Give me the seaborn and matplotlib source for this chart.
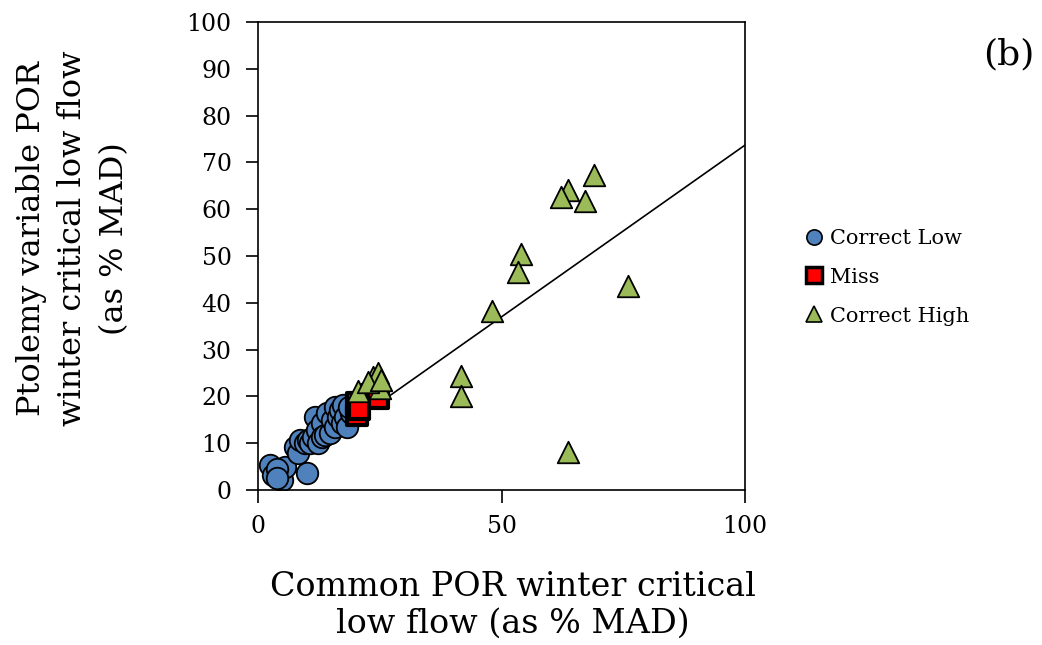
import numpy as np
import pandas as pd
import matplotlib
matplotlib.use("Agg")
import matplotlib.pyplot as plt
import seaborn as sns
from matplotlib.lines import Line2D

# ---------------- data ----------------
low_x = [2.5, 3.1, 4.9, 5.5, 10.0, 7.6, 8.2, 8.6, 9.7, 10.3, 10.7, 11.3, 11.7, 12.1,
         12.3, 13.1, 13.1, 13.8, 14.2, 14.8, 15.2, 15.8, 15.8, 16.4, 16.8, 17.2, 17.5,
         17.9, 18.3, 19.0, 18.6, 4.0, 3.8]
low_y = [5.3, 3.2, 2.1, 4.9, 3.6, 9.2, 7.9, 10.7, 10.0, 10.7, 10.0, 11.3, 15.6, 12.8,
         10.0, 14.3, 11.3, 11.8, 16.5, 12.2, 15.0, 13.5, 17.7, 15.6, 17.1, 14.3, 18.2,
         15.6, 13.5, 16.5, 17.8, 4.5, 2.6]

miss_x = [20.3, 20.3, 23.4, 24.6, 20.8]
miss_y = [18.6, 16.0, 20.3, 19.7, 17.3]

high_x = [69.0, 63.6, 62.2, 67.1, 54.0, 53.4, 76.0, 48.0, 41.7, 41.7, 63.7,
          23.6, 24.6, 25.1, 20.5, 22.6, 25.3]
high_y = [67.3, 64.1, 62.6, 61.8, 50.4, 46.6, 43.6, 38.2, 24.4, 20.1, 8.1,
          24.1, 25.0, 21.8, 21.2, 23.1, 23.5]

group_names = ["Correct Low", "Miss", "Correct High"]
trend_slope = 0.734
trend_intercept = 0.3
trend_x_range = [3.0, 100.0]

x_ticks = [0, 50, 100]
y_ticks = [0, 10, 20, 30, 40, 50, 60, 70, 80, 90, 100]

# ---------------- style ----------------
sns.set_style("white")
plt.rcParams["font.family"] = ["DejaVu Serif"]
plt.rcParams["text.color"] = "black"
plt.rcParams["xtick.color"] = "black"
plt.rcParams["ytick.color"] = "black"

df = pd.concat([
    pd.DataFrame({"x": low_x, "y": low_y, "g": group_names[0]}),
    pd.DataFrame({"x": miss_x, "y": miss_y, "g": group_names[1]}),
    pd.DataFrame({"x": high_x, "y": high_y, "g": group_names[2]}),
], ignore_index=True)

fig = plt.figure(figsize=(10.42, 6.45), dpi=100)
ax = fig.add_axes([0.2476, 0.2403, 0.4674, 0.7256])

# trendline
tx = np.linspace(trend_x_range[0], trend_x_range[1], 50)
ax.plot(tx, trend_slope * tx + trend_intercept, color="black", lw=1.2, zorder=1)

styles = {
    "Correct Low": dict(marker="o", color="#4F81BD", s=240, linewidth=1.3),
    "Miss": dict(marker="s", color="#FF0000", s=210, linewidth=3.0),
    "Correct High": dict(marker="^", color="#9BBB59", s=240, linewidth=1.3),
}
order_z = {"Correct Low": 2, "Miss": 3, "Correct High": 4}
for g in group_names:
    st = styles[g]
    sns.scatterplot(data=df[df.g == g], x="x", y="y", ax=ax, marker=st["marker"],
                    color=st["color"], s=st["s"], edgecolor="black",
                    linewidth=st["linewidth"], zorder=order_z[g], label=g, legend=False)

ax.set_xlim(0, 100)
ax.set_ylim(0, 100)
ax.set_xticks(x_ticks)
ax.set_yticks(y_ticks)
ax.tick_params(axis="both", direction="out", length=9, width=1.2, labelsize=17,
               colors="black", bottom=True, left=True)
ax.tick_params(axis="x", pad=9)
ax.tick_params(axis="y", pad=10)
for sp in ax.spines.values():
    sp.set_color("black")
    sp.set_linewidth(1.2)
ax.set_xlabel("")
ax.set_ylabel("")

fig.text(0.070, 0.63, "Ptolemy variable POR\nwinter critical low flow\n(as % MAD)",
         rotation=90, ha="center", va="center", multialignment="center",
         fontsize=23, linespacing=1.45)
fig.text(0.492, 0.062, "Common POR winter critical\nlow flow (as % MAD)",
         ha="center", va="center", multialignment="center",
         fontsize=24, linespacing=1.2)
fig.text(0.968, 0.915, "(b)", ha="center", va="center", fontsize=26)

handles = [
    Line2D([], [], ls="", marker="o", markersize=11, markerfacecolor="#4F81BD",
           markeredgecolor="black", markeredgewidth=1.2),
    Line2D([], [], ls="", marker="s", markersize=11, markerfacecolor="#FF0000",
           markeredgecolor="black", markeredgewidth=2.5),
    Line2D([], [], ls="", marker="^", markersize=11, markerfacecolor="#9BBB59",
           markeredgecolor="black", markeredgewidth=1.2),
]
fig.legend(handles, group_names, loc="upper left", bbox_to_anchor=(0.765, 0.658),
           frameon=False, fontsize=15, handlelength=0.8, handletextpad=0.4,
           labelspacing=0.95, borderaxespad=0)

fig.savefig("out.png", dpi=100)
